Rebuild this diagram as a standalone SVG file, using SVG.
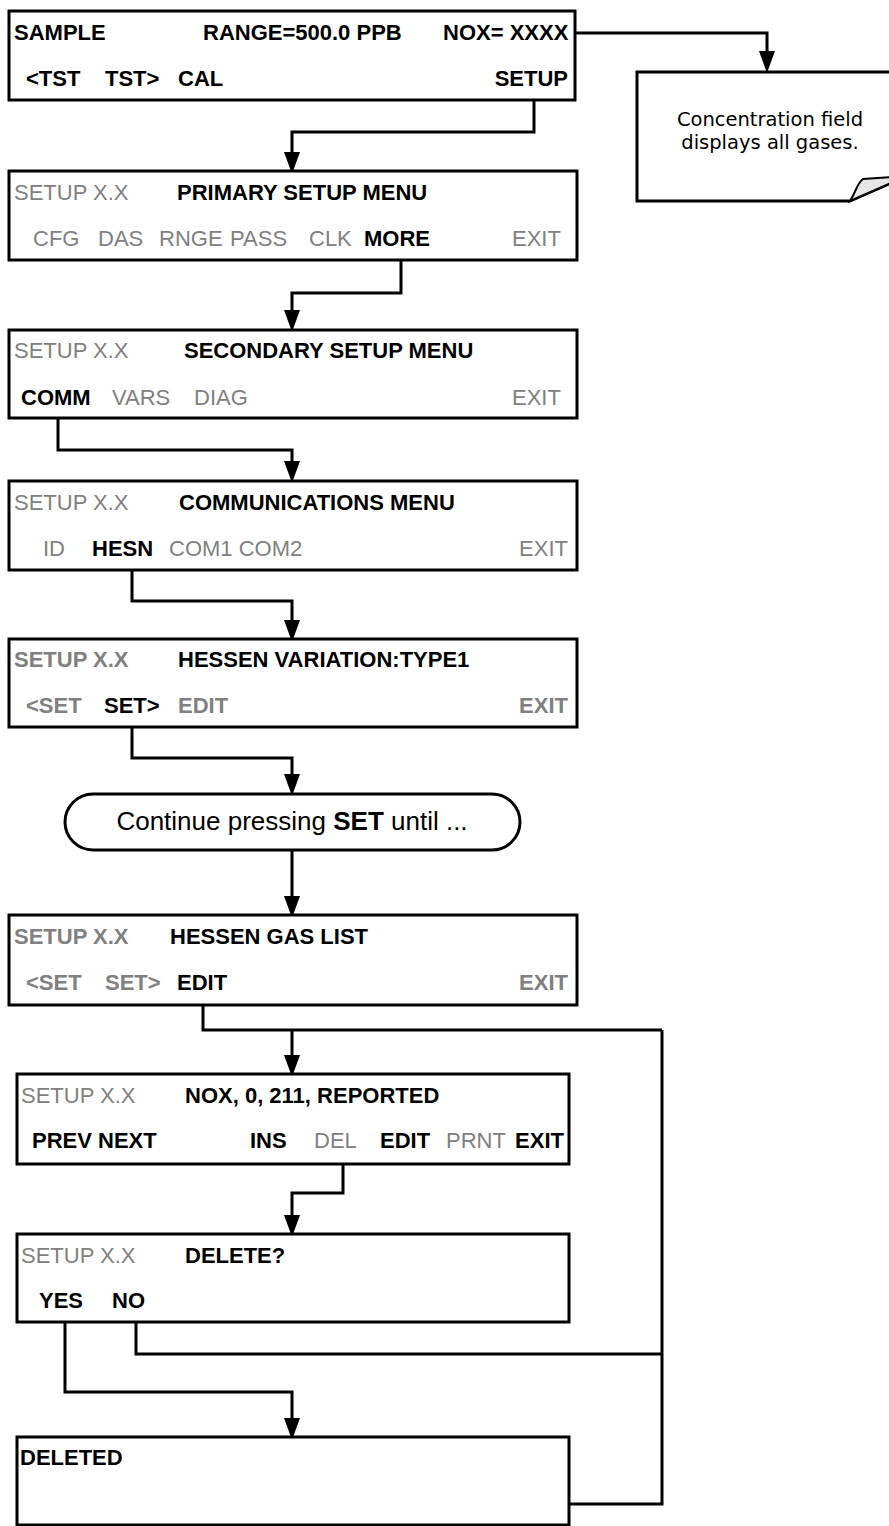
<svg xmlns="http://www.w3.org/2000/svg" width="889" height="1526" viewBox="0 0 889 1526">
<style>
  .box { fill: #fff; stroke: #000; stroke-width: 3; }
  .ln { fill: none; stroke: #000; stroke-width: 3; }
  text { font-family: "Liberation Sans", Arial, sans-serif; font-size: 22px; }
  .b { font-weight: bold; fill: #000; }
  .g { fill: #808080; }
  .gb { font-weight: bold; fill: #808080; }
  .note { font-family: "DejaVu Sans", Verdana, sans-serif; font-size: 19.5px; fill: #000; text-anchor: middle; }
</style>
<defs>
  <marker id="arr" markerUnits="userSpaceOnUse" markerWidth="22" markerHeight="16" viewBox="0 0 22 16" refX="12" refY="8" orient="auto">
    <path d="M0,0 L22,8 L0,16 Z" fill="#000"/>
  </marker>
</defs>
<rect width="889" height="1526" fill="#fff"/>

<g id="connectors">
  <path class="ln" d="M575,33 H767 V63" marker-end="url(#arr)"/>
  <path class="ln" d="M534,100 V132 H292 V164" marker-end="url(#arr)"/>
  <path class="ln" d="M401,260 V293 H292 V322" marker-end="url(#arr)"/>
  <path class="ln" d="M58,418 V450 H292 V473" marker-end="url(#arr)"/>
  <path class="ln" d="M132,570 V601 H292 V632" marker-end="url(#arr)"/>
  <path class="ln" d="M132,727 V758 H292 V786" marker-end="url(#arr)"/>
  <path class="ln" d="M292,850 V908" marker-end="url(#arr)"/>
  <path class="ln" d="M203,1005 V1030 H662"/>
  <path class="ln" d="M292,1030 V1067" marker-end="url(#arr)"/>
  <path class="ln" d="M343,1164 V1193 H292 V1227" marker-end="url(#arr)"/>
  <path class="ln" d="M136,1322 V1354 H662"/>
  <path class="ln" d="M65,1322 V1392 H292 V1430" marker-end="url(#arr)"/>
  <path class="ln" d="M559,1504 H662 V1030"/>
</g>

<g id="sample">
  <rect class="box" x="9" y="11" width="566" height="89"/>
  <text class="b" x="14" y="40">SAMPLE</text>
  <text class="b" x="203" y="40">RANGE=500.0 PPB</text>
  <text class="b" x="443" y="40">NOX= XXXX</text>
  <text class="b" x="26" y="86">&lt;TST</text>
  <text class="b" x="105" y="86">TST&gt;</text>
  <text class="b" x="178" y="86">CAL</text>
  <text class="b" x="568" y="86" text-anchor="end">SETUP</text>
</g>

<g id="note">
  <path d="M637,72 H891 V183 L850,201 H637 Z" fill="#fff" stroke="#000" stroke-width="3"/>
  <path d="M850,201 C856,192 857,183 863,179 L891,177 L891,183 Z" fill="#e6e6e6" stroke="#000" stroke-width="2"/>
  <text class="note" x="770" y="126">Concentration field</text>
  <text class="note" x="770" y="149">displays all gases.</text>
</g>

<g id="primary">
  <rect class="box" x="9" y="171" width="568" height="89"/>
  <text class="g" x="14" y="200">SETUP X.X</text>
  <text class="b" x="177" y="200">PRIMARY SETUP MENU</text>
  <text class="g" x="33" y="246">CFG</text>
  <text class="g" x="98" y="246">DAS</text>
  <text class="g" x="159" y="246">RNGE</text>
  <text class="g" x="230" y="246">PASS</text>
  <text class="g" x="309" y="246">CLK</text>
  <text class="b" x="364" y="246">MORE</text>
  <text class="g" x="512" y="246">EXIT</text>
</g>

<g id="secondary">
  <rect class="box" x="9" y="330" width="568" height="88"/>
  <text class="g" x="14" y="358">SETUP X.X</text>
  <text class="b" x="184" y="358">SECONDARY SETUP MENU</text>
  <text class="b" x="21" y="405">COMM</text>
  <text class="g" x="112" y="405">VARS</text>
  <text class="g" x="194" y="405">DIAG</text>
  <text class="g" x="512" y="405">EXIT</text>
</g>

<g id="comm">
  <rect class="box" x="9" y="481" width="568" height="89"/>
  <text class="g" x="14" y="510">SETUP X.X</text>
  <text class="b" x="179" y="510">COMMUNICATIONS MENU</text>
  <text class="g" x="43" y="556">ID</text>
  <text class="b" x="92" y="556">HESN</text>
  <text class="g" x="169" y="556">COM1 COM2</text>
  <text class="g" x="568" y="556" text-anchor="end">EXIT</text>
</g>

<g id="variation">
  <rect class="box" x="9" y="639" width="568" height="88"/>
  <text class="gb" x="14" y="667">SETUP X.X</text>
  <text class="b" x="178" y="667">HESSEN VARIATION:TYPE1</text>
  <text class="gb" x="26" y="713">&lt;SET</text>
  <text class="b" x="104" y="713">SET&gt;</text>
  <text class="gb" x="178" y="713">EDIT</text>
  <text class="gb" x="568" y="713" text-anchor="end">EXIT</text>
</g>

<g id="continue">
  <rect class="box" x="65" y="794" width="455" height="56" rx="28" ry="28"/>
  <text x="292" y="830" text-anchor="middle" style="font-size:26px">Continue pressing <tspan font-weight="bold">SET</tspan> until ...</text>
</g>

<g id="gaslist">
  <rect class="box" x="9" y="915" width="568" height="90"/>
  <text class="gb" x="14" y="944">SETUP X.X</text>
  <text class="b" x="170" y="944">HESSEN GAS LIST</text>
  <text class="gb" x="26" y="990">&lt;SET</text>
  <text class="gb" x="105" y="990">SET&gt;</text>
  <text class="b" x="177" y="990">EDIT</text>
  <text class="gb" x="568" y="990" text-anchor="end">EXIT</text>
</g>

<g id="gasentry">
  <rect class="box" x="17" y="1074" width="552" height="90"/>
  <text class="g" x="21" y="1103">SETUP X.X</text>
  <text class="b" x="185" y="1103">NOX, 0, 211, REPORTED</text>
  <text class="b" x="32" y="1148">PREV</text>
  <text class="b" x="98" y="1148">NEXT</text>
  <text class="b" x="250" y="1148">INS</text>
  <text class="g" x="314" y="1148">DEL</text>
  <text class="b" x="380" y="1148">EDIT</text>
  <text class="g" x="446" y="1148">PRNT</text>
  <text class="b" x="564" y="1148" text-anchor="end">EXIT</text>
</g>

<g id="delete">
  <rect class="box" x="17" y="1234" width="552" height="88"/>
  <text class="g" x="21" y="1263">SETUP X.X</text>
  <text class="b" x="185" y="1263">DELETE?</text>
  <text class="b" x="39" y="1308">YES</text>
  <text class="b" x="112" y="1308">NO</text>
</g>

<g id="deleted">
  <rect class="box" x="17" y="1437" width="552" height="88"/>
  <text class="b" x="20" y="1465">DELETED</text>
</g>
</svg>
